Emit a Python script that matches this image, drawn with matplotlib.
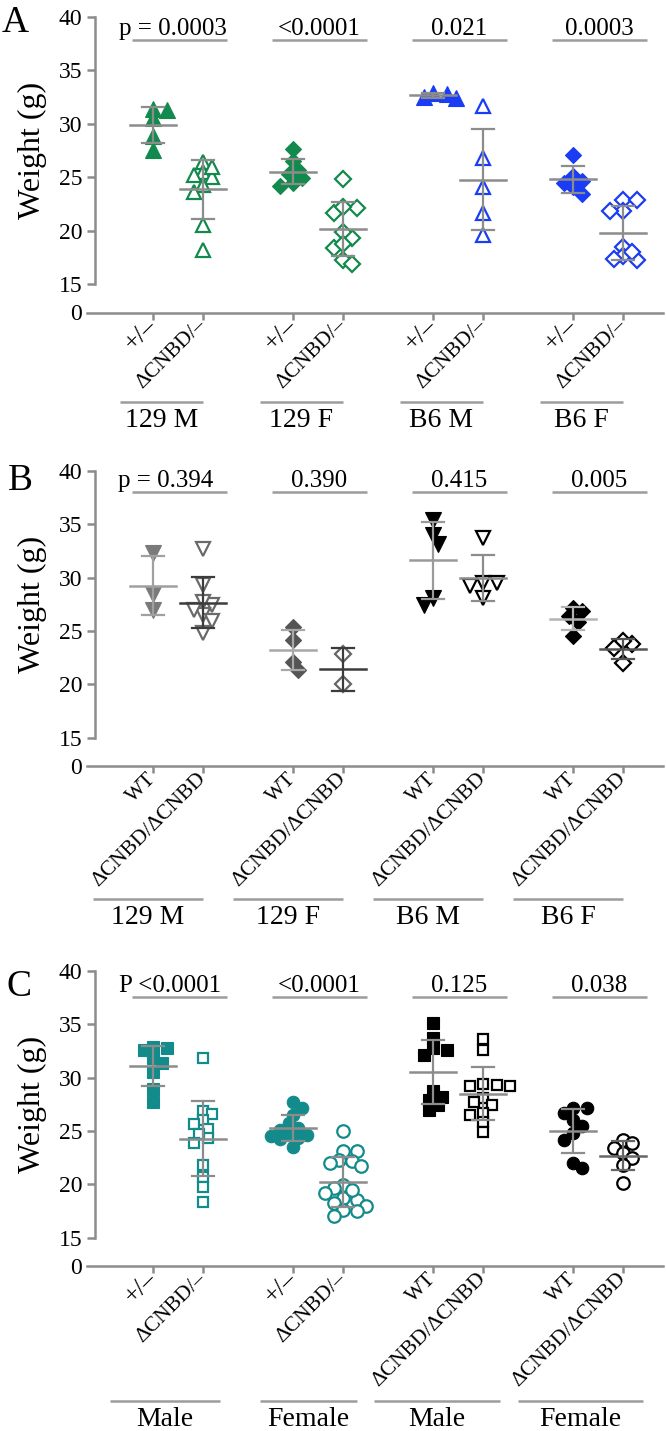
import numpy as np
import matplotlib
matplotlib.use('Agg')
import matplotlib.pyplot as plt
from matplotlib.transforms import blended_transform_factory
from matplotlib.ticker import FixedLocator

plt.rcParams['font.family'] = ['Liberation Serif', 'DejaVu Serif']

# ---------------- data ----------------
tick_labels_A = ['+/–', 'ΔCNBD/–'] * 4
tick_labels_B = ['WT', 'ΔCNBD/ΔCNBD'] * 4
tick_labels_C = ['+/–', 'ΔCNBD/–', '+/–', 'ΔCNBD/–',
                 'WT', 'ΔCNBD/ΔCNBD', 'WT', 'ΔCNBD/ΔCNBD']
group_labels_A = ['129 M', '129 F', 'B6 M', 'B6 F']
group_labels_B = ['129 M', '129 F', 'B6 M', 'B6 F']
group_labels_C = ['Male', 'Female', 'Male', 'Female']
pvals_A = ['p = 0.0003', '<0.0001', '0.021', '0.0003']
pvals_B = ['p = 0.394', '0.390', '0.415', '0.005']
pvals_C = ['P <0.0001', '<0.0001', '0.125', '0.038']

# Panel A (weights, g)
A_129M_het = [31.3, 31.4, 30.5, 28.8, 27.5]
A_129M_cnbd = [26.45, 25.5, 25.05, 25.98, 25.2, 24.27, 23.65, 20.53, 18.2]
A_129F_het = [27.6, 26.5, 25.7, 25.3, 24.9, 24.4, 24.2]
A_129F_cnbd = [24.8, 22.1, 21.6, 22.24, 19.29, 19.9, 18.36, 18.76, 17.26, 16.9]
A_B6M_het = [32.9, 32.5, 32.8, 32.4]
A_B6M_cnbd = [31.65, 26.77, 24.11, 21.68, 19.6]
A_B6F_het = [27.1, 25.1, 24.4, 24.1, 23.4, 24.6]
A_B6F_cnbd = [22.9, 22.9, 21.8, 21.8, 18.5, 17.6, 17.3, 17.2, 18.0]

# Panel B
B_129M_wt = [32.3, 28.5, 27.0]
B_129M_cnbd = [32.66, 29.3, 27.4, 27.75, 26.5, 26.97, 25.9, 24.8]
B_129F_wt = [25.4, 24.2, 22.1, 21.3]
B_129F_cnbd = [22.8, 20.0]
B_B6M_wt = [34.0, 35.4, 33.16, 27.44, 28.06]
B_B6M_cnbd = [33.7, 29.47, 29.47, 28.06, 29.2]
B_B6F_wt = [27.2, 26.9, 26.4, 25.8, 24.5]
B_B6F_cnbd = [23.78, 24.1, 23.38, 21.97]

# Panel C
C_M_het = [32.9, 32.6, 32.75, 31.8, 31.4, 30.5, 28.9, 27.7]
C_M_cnbd = [31.8, 26.9, 26.6, 26.0, 25.6, 25.2, 24.3, 24.7, 23.9, 21.8, 20.7, 19.75, 18.3]
C_F_het = [27.7, 27.1, 26.5, 25.7, 25.1, 25.3, 24.8, 24.5, 24.3, 23.5, 24.6, 24.2]
C_F_cnbd = [24.95, 23.1, 23.1, 22.15, 22.3, 21.7, 22.0, 19.95, 19.65, 19.2, 18.7,
            18.55, 18.25, 18.0, 17.5, 17.6, 17.0, 19.5]
C_M_wt = [35.1, 33.7, 32.8, 32.1, 28.7, 28.2, 27.9, 27.0, 27.4, 32.6]
C_M_cnbd2 = [33.58, 32.59, 29.16, 29.4, 29.3, 29.16, 28.07, 27.7, 27.4, 26.7, 26.5, 25.8, 24.86]
C_F_wt = [27.13, 27.13, 26.67, 26.04, 25.42, 24.8, 24.17, 21.53, 22.0]
C_F_cnbd2 = [24.17, 23.86, 23.4, 22.93, 22.46, 21.84, 20.12]

# ---------------- styles ----------------
GREEN = '#138a4d'
BLUE = '#1a3cf5'
TEAL = '#138b8b'
AX = '#8c8c8c'
LINEC = '#9c9c9c'

def mk(marker, ms, color, filled, mew=1.6):
    return dict(marker=marker, ms=ms, mfc=color if filled else 'white',
                mec=color, mew=0.8 if filled else mew)

styles_A = [mk('^', 11, GREEN, True), mk('^', 10.5, GREEN, False),
            mk('D', 8, GREEN, True), mk('D', 8, GREEN, False),
            mk('^', 11, BLUE, True), mk('^', 10.5, BLUE, False),
            mk('D', 8, BLUE, True), mk('D', 8, BLUE, False)]
styles_B = [mk('v', 11, '#7a7a7a', True), mk('v', 10.5, '#6a6a6a', False),
            mk('D', 8, '#555555', True), mk('D', 8, '#666666', False),
            mk('v', 11, 'black', True), mk('v', 10.5, 'black', False),
            mk('D', 8, 'black', True), mk('D', 8, 'black', False)]
styles_C = [mk('s', 8.5, TEAL, True), mk('s', 7.5, TEAL, False),
            mk('o', 9, TEAL, True), mk('o', 9, TEAL, False),
            mk('s', 8.5, 'black', True), mk('s', 7.5, 'black', False),
            mk('o', 9, 'black', True), mk('o', 9, 'black', False)]
err_A = [AX] * 8
err_B = ['#a0a0a0', '#3c3c3c', '#a8a8a8', '#3c3c3c', '#9a9a9a', '#8c8c8c', '#b4b4b4', '#555555']
err_C = [AX] * 7 + ['#666666']

positions = np.array([0, 1, 2.8, 3.8, 5.6, 6.6, 8.4, 9.4])

W, H = 666, 1431
fig = plt.figure(figsize=(W / 100, H / 100), dpi=100)

X0PX, XSTEP = 153.0, 50.0
def kx(px):
    return (px - X0PX) / XSTEP
def fx(px):
    return px / W
def fy(px):
    return 1 - px / H

def swarm(vals, unit, d=9.5, step=4.5):
    vals = np.asarray(vals, float)
    placed = []
    res = np.zeros(len(vals))
    flip = 1
    for i in np.argsort(-vals):
        y = vals[i] * unit
        chosen = None
        for kk in range(0, 40):
            cands = [0.0] if kk == 0 else [flip * kk * step, -flip * kk * step]
            for c in cands:
                if all((c - px) ** 2 + (y - py) ** 2 >= d * d for px, py in placed):
                    chosen = c
                    break
            if chosen is not None:
                break
        if chosen != 0:
            flip = -flip
        placed.append((chosen, y))
        res[i] = chosen
    return res / XSTEP

panels = [
    dict(letter='A', lx=1.5, ly=6, y40=16.7, y15=284.0, y0=312.5,
         groups=[A_129M_het, A_129M_cnbd, A_129F_het, A_129F_cnbd,
                 A_B6M_het, A_B6M_cnbd, A_B6F_het, A_B6F_cnbd],
         styles=styles_A, errc=err_A, ticks=tick_labels_A,
         glabels=group_labels_A, pvals=pvals_A, pline=40.0, p0shift=0,
         under=[(-0.66, 1.0)] * 4, uy=401.7, gy=408.0),
    dict(letter='B', lx=8, ly=463, y40=471.0, y15=737.7, y0=766.0,
         groups=[B_129M_wt, B_129M_cnbd, B_129F_wt, B_129F_cnbd,
                 B_B6M_wt, B_B6M_cnbd, B_B6F_wt, B_B6F_cnbd],
         styles=styles_B, errc=err_B, ticks=tick_labels_B,
         glabels=group_labels_B, pvals=pvals_B, pline=491.7, p0shift=13,
         under=[(-1.2, 1.0)] * 4, uy=899.0, gy=905.0),
    dict(letter='C', lx=6, ly=970, y40=970.7, y15=1237.7, y0=1266.0,
         groups=[C_M_het, C_M_cnbd, C_F_het, C_F_cnbd,
                 C_M_wt, C_M_cnbd2, C_F_wt, C_F_cnbd2],
         styles=styles_C, errc=err_C, ticks=tick_labels_C,
         glabels=group_labels_C, pvals=pvals_C, pline=996.7, p0shift=5,
         under=[(-0.86, 1.34), (-0.66, 1.28), (-1.18, 1.34), (-1.1, 1.4)],
         uy=1401.0, gy=1407.0),
]

LW = 1.8
for P in panels:
    y40, y15, y0 = P['y40'], P['y15'], P['y0']
    unit = (y15 - y40) / 25.0
    ax = fig.add_axes([fx(95), fy(y15), fx(663) - fx(95), (y15 - y40) / H])
    ax.set_xlim(kx(95), kx(663))
    ax.set_ylim(15, 40)
    for s in ['top', 'right', 'bottom']:
        ax.spines[s].set_visible(False)
    ax.spines['left'].set_color(AX)
    ax.spines['left'].set_linewidth(LW)
    ax.set_xticks([])
    ax.set_yticks([15, 20, 25, 30, 35, 40])
    ax.tick_params(axis='y', direction='out', length=6, width=LW, color=AX,
                   pad=3.2, labelsize=17, labelcolor='black')
    ax.yaxis.set_minor_locator(FixedLocator([15]))
    ax.tick_params(axis='y', which='minor', direction='in', length=7.3,
                   width=LW, color=AX)
    ax.patch.set_alpha(0)

    for gi, (vals, st, ec) in enumerate(zip(P['groups'], P['styles'], P['errc'])):
        vals = np.asarray(vals, float)
        offs = swarm(vals, unit)
        ax.plot(positions[gi] + offs, vals, linestyle='none', clip_on=False,
                zorder=2, **st)
        m = vals.mean()
        sd = vals.std(ddof=1)
        x = positions[gi]
        ax.plot([x, x], [m - sd, m + sd], color=ec, lw=1.6, zorder=3,
                solid_capstyle='butt')
        ax.plot([x - 0.22, x + 0.22], [m + sd, m + sd], color=ec, lw=1.6, zorder=3)
        ax.plot([x - 0.22, x + 0.22], [m - sd, m - sd], color=ec, lw=1.6, zorder=3)
        ax.plot([x - 0.46, x + 0.46], [m, m], color=ec, lw=1.8, zorder=3)

    # p-value lines and text
    tr = blended_transform_factory(ax.transData, fig.transFigure)
    for j, pv in enumerate(P['pvals']):
        a = positions[2 * j]
        xs, xe = a - 0.42, a + 1.47
        ax.plot([xs, xe], [fy(P['pline'])] * 2, transform=tr, color=LINEC,
                lw=LW, clip_on=False, solid_capstyle='butt')
        if j == 0:
            ax.text(xe - P['p0shift'] / XSTEP, fy(P['pline'] - 5), pv,
                    transform=tr, ha='right', va='baseline', fontsize=18)
        else:
            ax.text((xs + xe) / 2, fy(P['pline'] - 5), pv, transform=tr,
                    ha='center', va='baseline', fontsize=18)

    # bottom broken-axis part (the "0" baseline)
    axb = fig.add_axes([fx(86.7), fy(y0), fx(663) - fx(86.7), 4 / H])
    axb.set_xlim(kx(86.7), kx(663))
    axb.set_ylim(0, 1)
    for s in ['top', 'right', 'left']:
        axb.spines[s].set_visible(False)
    axb.spines['bottom'].set_color(AX)
    axb.spines['bottom'].set_linewidth(LW)
    axb.patch.set_alpha(0)
    axb.set_yticks([0])
    axb.set_yticklabels(['0'])
    axb.tick_params(axis='y', length=0, pad=3.2, labelsize=17)
    axb.set_xticks(positions)
    axb.set_xticklabels(P['ticks'])
    axb.tick_params(axis='x', direction='out', length=5, width=LW, color=AX,
                    pad=2, labelsize=15.5)
    for lab in axb.get_xticklabels():
        lab.set_rotation(45)
        lab.set_ha('right')
        lab.set_va('center')
        lab.set_rotation_mode('anchor')
        if lab.get_text().startswith('+'):
            lab.set_fontsize(18.5)

    trb = blended_transform_factory(axb.transData, fig.transFigure)
    for j, gl in enumerate(P['glabels']):
        a = positions[2 * j]
        u0, u1 = P['under'][j]
        axb.plot([a + u0, a + u1], [fy(P['uy'])] * 2, transform=trb,
                 color=LINEC, lw=LW, clip_on=False, solid_capstyle='butt')
        axb.text(a + (u0 + u1) / 2, fy(P['gy']), gl, transform=trb,
                 ha='center', va='top', fontsize=20)

    fig.text(fx(32), fy((y40 + y15) / 2), 'Weight (g)', rotation=90,
             ha='center', va='center', fontsize=23)
    fig.text(fx(P['lx']), fy(P['ly']), P['letter'], ha='left', va='top',
             fontsize=27)

fig.savefig('out.png', dpi=100)
